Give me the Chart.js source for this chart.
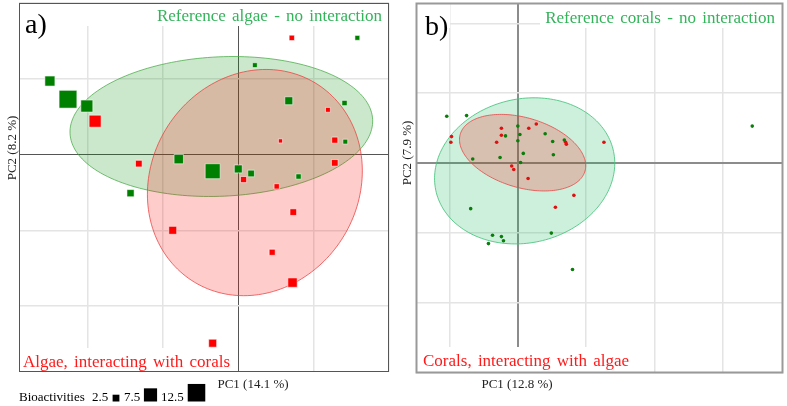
<!DOCTYPE html>
<html>
<head>
<meta charset="utf-8">
<script src="https://cdn.jsdelivr.net/npm/chart.js@4.4.0/dist/chart.umd.min.js"></script>
<style>
  body { margin: 0; background: #fff; }
  #wrap { position: relative; width: 787px; height: 406px; }
  #chartA { position: absolute; left: 0; top: 0; }
  #chartB { position: absolute; left: 400px; top: 0; }
</style>
</head>
<body>
<div id="wrap">
  <canvas id="chartA" width="400" height="406"></canvas>
  <canvas id="chartB" width="387" height="406"></canvas>
</div>
<script>
// ---- panel a: algae (PC1 / PC2 scores, bioactivity count) ----
const algaeRefPC1 = [-2.50, -2.26, -2.01, 1.58, 0.22, 0.67, 1.41, 1.42, -0.79, -0.34, 0.00, 0.17, 0.80, -1.43];
const algaeRefPC2 = [0.97, 0.73, 0.64, 1.54, 1.18, 0.71, 0.68, 0.17, -0.06, -0.22, -0.19, -0.25, -0.29, -0.51];
const algaeRefBio = [4.7, 12.8, 6.4, 1.5, 1.5, 3.2, 1.7, 1.5, 4.2, 9.4, 3.2, 2.4, 1.7, 2.7];

const algaeIntPC1 = [0.71, -1.90, 1.19, 0.56, 1.28, 1.28, -1.32, 0.07, 0.51, 0.73, -0.87, 0.45, 0.72, -0.34];
const algaeIntPC2 = [1.54, 0.44, 0.59, 0.18, 0.19, -0.11, -0.12, -0.33, -0.42, -0.76, -1.00, -1.29, -1.69, -2.49];
const algaeIntBio = [1.7, 6.4, 1.5, 1.2, 2.1, 2.4, 2.4, 2.1, 1.7, 2.4, 3.2, 2.1, 4.2, 3.2];

// ---- panel b: corals ----
const coralRefPC1 = [-1.04, -0.75, 0.00, 0.03, -0.18, 0.40, 0.00, 0.51, 0.68, 0.08, 0.52, -0.26, -0.66, 0.04, -0.69, -0.37, -0.24, -0.21, -0.43, 0.49, 3.43, 0.80];
const coralRefPC2 = [0.67, 0.68, 0.53, 0.41, 0.39, 0.42, 0.32, 0.31, 0.33, 0.14, 0.12, 0.08, 0.06, 0.01, -0.65, -1.03, -1.05, -1.11, -1.15, -1.00, 0.53, -1.52];
const coralIntPC1 = [-0.24, 0.16, 0.27, -0.97, -0.98, -0.24, -0.31, 0.70, 0.71, 1.26, -0.09, -0.06, 0.15, 0.82, 0.55];
const coralIntPC2 = [0.50, 0.50, 0.56, 0.38, 0.30, 0.40, 0.30, 0.30, 0.27, 0.30, -0.04, -0.09, -0.22, -0.46, -0.63];

// confidence ellipses: [centre PC1, centre PC2, semi-axis a, semi-axis b, angle deg]
const algaeRefEllipse = [-0.225, 0.37, 2.01, 0.92, 2.6];
const algaeIntEllipse = [0.22, -0.37, 1.54, 1.375, 57];
const coralRefEllipse = [0.10, -0.11, 1.33, 1.03, 12];
const coralIntEllipse = [0.07, 0.15, 0.95, 0.50, -16];

const legendBio = [2.5, 7.5, 12.5];

const SERIF = '"Liberation Serif", "Times New Roman", serif';

// square side in px for a bioactivity value
function side(v) {
  return 5.5 * Math.sqrt(v) - 1.9;
}

function toPoints(xs, ys) {
  return xs.map((x, i) => ({ x, y: ys[i] }));
}

function drawEllipse(ctx, xs, ys, e, fill, stroke) {
  const [cx, cy, a, b, deg] = e;
  const phi = deg * Math.PI / 180;
  ctx.beginPath();
  for (let i = 0; i <= 180; i++) {
    const t = i / 180 * Math.PI * 2;
    const dx = a * Math.cos(t), dy = b * Math.sin(t);
    const px = xs.getPixelForValue(cx + dx * Math.cos(phi) - dy * Math.sin(phi));
    const py = ys.getPixelForValue(cy + dx * Math.sin(phi) + dy * Math.cos(phi));
    if (i === 0) ctx.moveTo(px, py); else ctx.lineTo(px, py);
  }
  ctx.closePath();
  ctx.fillStyle = fill;
  ctx.fill();
  ctx.strokeStyle = stroke;
  ctx.lineWidth = 1;
  ctx.stroke();
}

const overlay = {
  id: 'overlay',
  beforeDatasetsDraw(chart, args, opts) {
    const { ctx, scales } = chart;
    ctx.save();
    ctx.fillStyle = '#fff';
    opts.boxes.forEach(b => ctx.fillRect(b[0], b[1], b[2], b[3]));
    opts.ellipses.forEach(e => drawEllipse(ctx, scales.x, scales.y, e.data, e.fill, e.stroke));
    ctx.restore();
  },
  afterDraw(chart, args, opts) {
    const { ctx, chartArea: a } = chart;
    ctx.save();
    ctx.strokeStyle = opts.borderColor;
    ctx.lineWidth = opts.borderWidth;
    ctx.strokeRect(a.left + 0.5, a.top + 0.5, a.right - a.left - 1, a.bottom - a.top - 1);

    opts.texts.forEach(t => {
      ctx.save();
      ctx.font = t.font;
      ctx.fillStyle = t.color;
      ctx.textAlign = t.align || 'left';
      ctx.textBaseline = t.baseline || 'alphabetic';
      if (t.ws) ctx.wordSpacing = t.ws;
      ctx.translate(t.x, t.y);
      if (t.rotate) ctx.rotate(t.rotate);
      ctx.fillText(t.text, 0, 0);
      ctx.restore();
    });

    if (opts.legend) {
      ctx.fillStyle = '#000';
      ctx.font = '13px ' + SERIF;
      ctx.textBaseline = 'alphabetic';
      ctx.fillText('Bioactivities', 19, 401);
      const textX = [92, 124, 161];
      const boxX = [116, 150.5, 196.5];
      legendBio.forEach((v, i) => {
        ctx.fillText(String(v), textX[i], 401);
        const s = side(v);
        ctx.fillRect(boxX[i] - s / 2, 401.5 - s, s, s);
      });
    }
    ctx.restore();
  }
};

function gridScale(min, max, axisColor, axisWidth, isX) {
  return {
    type: 'linear',
    min, max,
    ticks: { display: false, stepSize: 1, includeBounds: false },
    border: { display: false },
    grid: {
      drawTicks: false,
      color: c => c.tick && c.tick.value === 0 ? axisColor : '#e4e4e4',
      lineWidth: c => c.tick && c.tick.value === 0 ? axisWidth : 1.5
    },
    afterFit: s => { if (isX) s.height = 0; else s.width = 0; }
  };
}

function squares(xs, ys, bio, color) {
  return {
    data: toPoints(xs, ys),
    pointStyle: 'rect',
    pointRadius: bio.map(v => side(v) / Math.SQRT2),
    backgroundColor: color,
    borderColor: 'rgba(255,255,255,0.55)',
    borderWidth: 1
  };
}

function dots(xs, ys, color) {
  return {
    data: toPoints(xs, ys),
    pointStyle: 'circle',
    pointRadius: 1.8,
    backgroundColor: color,
    borderColor: color,
    borderWidth: 0
  };
}

new Chart(document.getElementById('chartA'), {
  type: 'scatter',
  data: {
    datasets: [
      squares(algaeRefPC1, algaeRefPC2, algaeRefBio, '#008000'),
      squares(algaeIntPC1, algaeIntPC2, algaeIntBio, '#ff0000')
    ]
  },
  options: {
    responsive: false,
    animation: false,
    events: [],
    layout: { autoPadding: false, padding: { left: 19, top: 3, right: 11, bottom: 34 } },
    scales: {
      x: gridScale(-2.91, 2.0, '#555', 1, true),
      y: gridScale(-2.87, 2.0, '#555', 1, false)
    },
    plugins: {
      legend: { display: false },
      tooltip: { enabled: false },
      overlay: {
        borderColor: '#555',
        borderWidth: 1,
        boxes: [[19, 3, 370, 23], [19, 348, 216, 24]],
        ellipses: [
          { data: algaeRefEllipse, fill: 'rgba(0,140,0,0.2)', stroke: 'rgba(70,170,70,0.75)' },
          { data: algaeIntEllipse, fill: 'rgba(255,0,0,0.2)', stroke: 'rgba(235,60,60,0.75)' }
        ],
        legend: true,
        texts: [
          { text: 'a)', x: 25, y: 33, font: '28px ' + SERIF, color: '#000' },
          { text: 'Reference algae - no interaction', x: 382, y: 21, align: 'right', font: '17px ' + SERIF, color: '#33b35a', ws: '2px' },
          { text: 'Algae, interacting with corals', x: 23, y: 367, font: '17px ' + SERIF, color: '#ff1a1a', ws: '2px' },
          { text: 'PC1 (14.1 %)', x: 253, y: 388, align: 'center', font: '13px ' + SERIF, color: '#222' },
          { text: 'PC2 (8.2 %)', x: 13, y: 148, align: 'center', baseline: 'middle', rotate: -Math.PI / 2, font: '13px ' + SERIF, color: '#222' }
        ]
      }
    }
  },
  plugins: [overlay]
});

new Chart(document.getElementById('chartB'), {
  type: 'scatter',
  data: {
    datasets: [
      dots(coralRefPC1, coralRefPC2, '#0a7d0a'),
      dots(coralIntPC1, coralIntPC2, '#e01010')
    ]
  },
  options: {
    responsive: false,
    animation: false,
    events: [],
    layout: { autoPadding: false, padding: { left: 16, top: 3, right: 4, bottom: 33 } },
    scales: {
      x: gridScale(-1.49, 3.88, '#8c8c8c', 2, true),
      y: gridScale(-3.0, 2.29, '#8c8c8c', 2, false)
    },
    plugins: {
      legend: { display: false },
      tooltip: { enabled: false },
      overlay: {
        borderColor: '#999',
        borderWidth: 2,
        boxes: [[16, 3, 34, 25], [140, 3, 243, 25], [16, 347, 224, 26]],
        ellipses: [
          { data: coralRefEllipse, fill: 'rgba(0,180,80,0.2)', stroke: 'rgba(70,195,125,0.85)' },
          { data: coralIntEllipse, fill: 'rgba(255,0,0,0.2)', stroke: 'rgba(232,70,70,0.8)' }
        ],
        legend: false,
        texts: [
          { text: 'b)', x: 25, y: 35, font: '28px ' + SERIF, color: '#000' },
          { text: 'Reference corals - no interaction', x: 375, y: 23, align: 'right', font: '17px ' + SERIF, color: '#33b35a', ws: '2px' },
          { text: 'Corals, interacting with algae', x: 23, y: 366, font: '17px ' + SERIF, color: '#ff1a1a', ws: '2px' },
          { text: 'PC1 (12.8 %)', x: 117, y: 388, align: 'center', font: '13px ' + SERIF, color: '#222' },
          { text: 'PC2 (7.9 %)', x: 8, y: 153, align: 'center', baseline: 'middle', rotate: -Math.PI / 2, font: '13px ' + SERIF, color: '#222' }
        ]
      }
    }
  },
  plugins: [overlay]
});
</script>
</body>
</html>
